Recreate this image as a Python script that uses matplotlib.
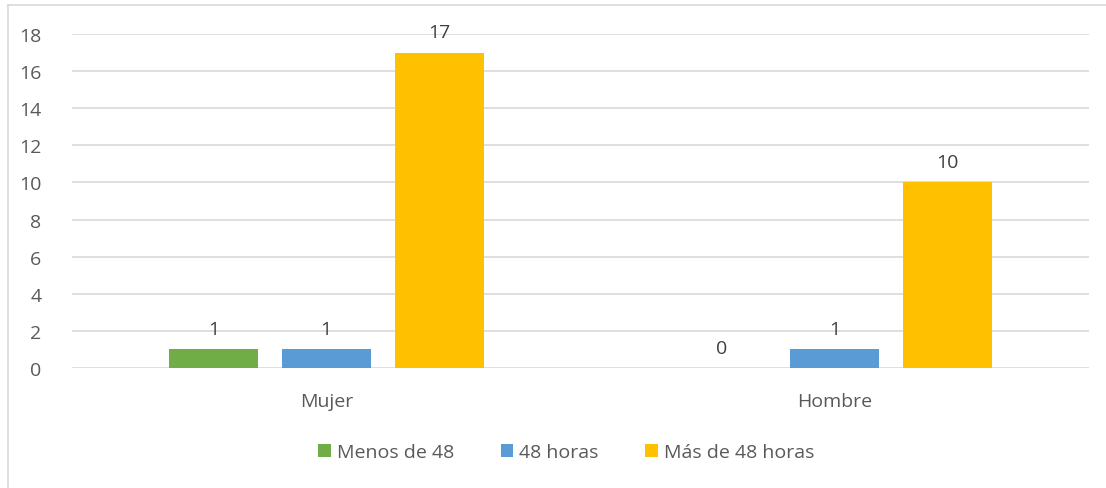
import numpy as np
import matplotlib.pyplot as plt
from matplotlib.lines import Line2D

categories = ['Mujer', 'Hombre']
series_names = ['Menos de 48', '48 horas', 'Más de 48 horas']
menos_48 = [1, 0]
horas_48 = [1, 1]
mas_48 = [17, 10]
yticks = [0, 2, 4, 6, 8, 10, 12, 14, 16, 18]

colors = ['#70AD47', '#5B9BD5', '#FFC000']
text_color = '#595959'
grid_color = '#D9D9D9'

plt.rcParams['font.family'] = ['Open Sans', 'DejaVu Sans']

W, H = 1106, 489
fig = plt.figure(figsize=(W / 100, H / 100), dpi=100)
ax = fig.add_axes([72 / W, 1 - 369 / H, (1089 - 72) / W, (369 - 35) / H])

x = np.arange(len(categories))
bar_w = 0.175
step = 0.222
for i, (vals, name) in enumerate(zip([menos_48, horas_48, mas_48], series_names)):
    pos = x + (i - 1) * step
    ax.bar(pos, vals, width=bar_w, color=colors[i], label=name, zorder=3)
    for p, v in zip(pos, vals):
        ax.annotate(str(v), (p, v), xytext=(0, 8), textcoords='offset points',
                    ha='center', va='bottom', fontsize=14, color='#404040')

ax.set_xlim(-0.5, 1.5)
ax.set_ylim(0, 18)
ax.set_yticks(yticks)
ax.set_xticks(x)
ax.set_xticklabels(categories)
ax.tick_params(axis='both', length=0, labelsize=14, colors=text_color)
ax.tick_params(axis='y', pad=22)
ax.tick_params(axis='x', pad=17)
ax.yaxis.grid(True, color=grid_color, linewidth=1.2, zorder=0)
for s in ax.spines.values():
    s.set_visible(False)

fig.legend(loc='center', bbox_to_anchor=(566 / W, 1 - 453 / H), ncol=3,
           frameon=False, fontsize=14, handlelength=0.65, handleheight=0.65,
           handletextpad=0.3, columnspacing=2.4, labelcolor=text_color)

# chart area border (left and top only visible)
fig.add_artist(Line2D([8 / W, 8 / W], [0, 1 - 6 / H], color=grid_color, lw=1.2))
fig.add_artist(Line2D([8 / W, 1], [1 - 6 / H, 1 - 6 / H], color=grid_color, lw=1.2))

fig.savefig('out.png', dpi=100)
